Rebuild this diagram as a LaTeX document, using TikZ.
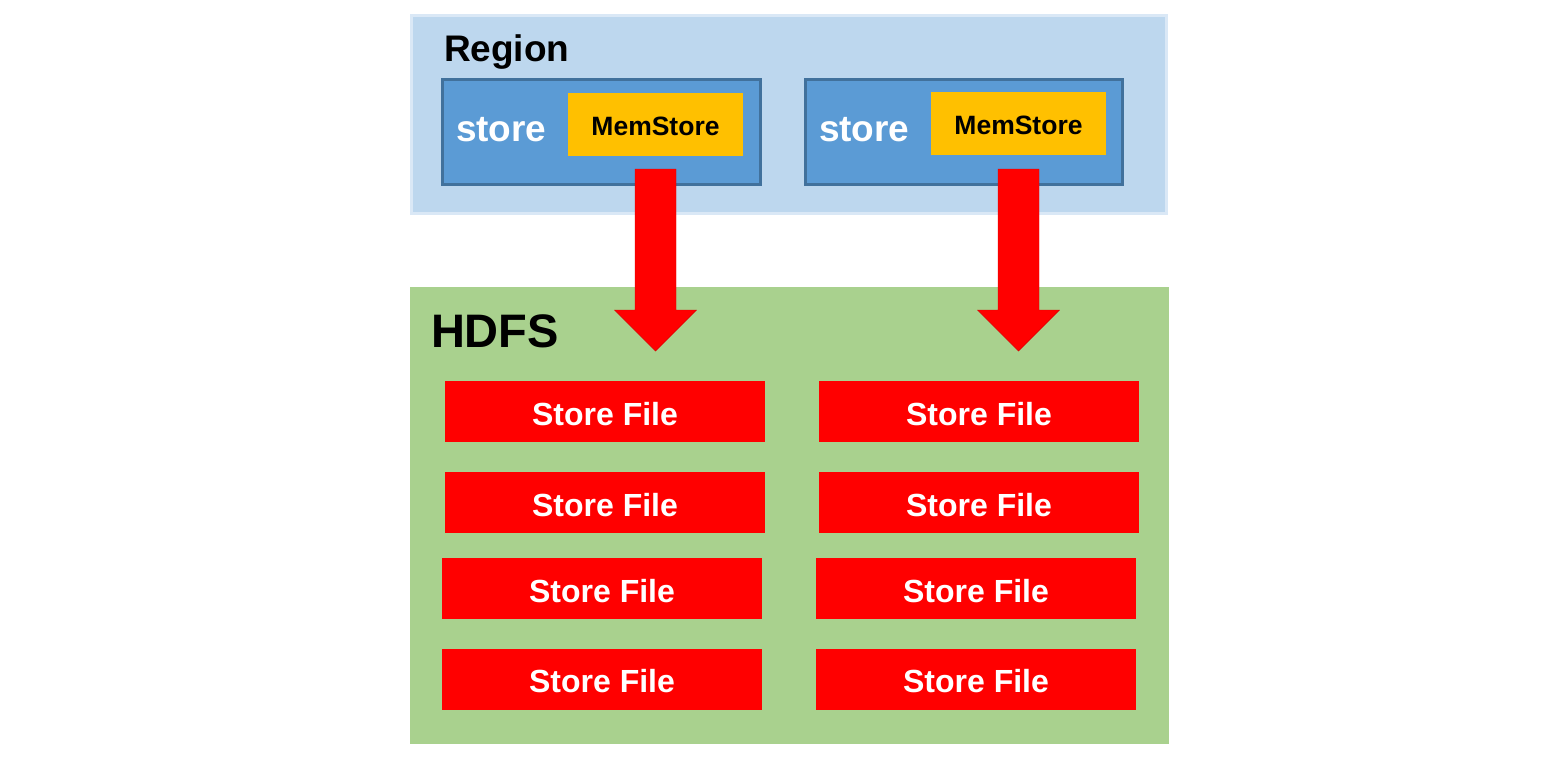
\documentclass[tikz,border=0pt]{standalone}
\usepackage{fontspec}
\setmainfont{Liberation Sans}
\definecolor{regionfill}{HTML}{BDD7EE}
\definecolor{regionedge}{HTML}{DAE8F6}
\definecolor{storefill}{HTML}{5B9BD5}
\definecolor{storeedge}{HTML}{41719C}
\definecolor{memfill}{HTML}{FFC000}
\definecolor{hdfsfill}{HTML}{A9D18E}
\definecolor{filered}{HTML}{FF0000}
\begin{document}
\begin{tikzpicture}[x=1pt,y=-1pt,
  container/.style={inner sep=0pt, outer sep=0pt},
  storebox/.style={fill=storefill, draw=storeedge, line width=3pt},
  membox/.style={fill=memfill, inner sep=0pt, text height=22pt, text depth=0pt, font=\fontsize{26.5}{30}\selectfont\bfseries, text=black},
  filebox/.style={fill=filered, inner sep=0pt, minimum width=320pt, minimum height=61pt, text height=27pt, text depth=0pt, font=\fontsize{32}{36}\selectfont\bfseries, text=white},
  bigarrow/.style={fill=filered, draw=filered!85!black, line width=0.4pt}
]
\useasboundingbox (0,0) rectangle (1555,758);
% Region container
\filldraw[fill=regionfill, draw=regionedge, line width=3pt] (411.5,15.5) rectangle (1166.5,213.5);
\node[container, anchor=west, font=\fontsize{37}{40}\selectfont\bfseries] (regionlbl) at (444,52) {Region};
% Stores
\filldraw[storebox] (442.5,79.5) rectangle (760,184);
\filldraw[storebox] (805.5,79.5) rectangle (1122,184);
\node[container, anchor=west, text=white, font=\fontsize{37}{40}\selectfont\bfseries] (st1) at (456,130) {store};
\node[container, anchor=west, text=white, font=\fontsize{37}{40}\selectfont\bfseries] (st2) at (819,130) {store};
\node[membox, minimum width=175pt, minimum height=63pt] (mem1) at (655.5,124.5) {MemStore};
\node[membox, minimum width=175pt, minimum height=63pt] (mem2) at (1018.5,123.5) {MemStore};
% HDFS container
\fill[hdfsfill] (410,287) rectangle (1169,744);
\node[container, anchor=west, font=\fontsize{47}{50}\selectfont\bfseries] (hdfslbl) at (431,331) {HDFS};
% Store files
\node[filebox] (f11) at (605,411.5) {Store File};
\node[filebox] (f12) at (605,502.5) {Store File};
\node[filebox] (f13) at (602,588.5) {Store File};
\node[filebox] (f14) at (602,679) {Store File};
\node[filebox] (f21) at (979,411.5) {Store File};
\node[filebox] (f22) at (979,502.5) {Store File};
\node[filebox] (f23) at (976,588.5) {Store File};
\node[filebox] (f24) at (976,679) {Store File};
% Block arrows
\coordinate (a1top) at (655.5,169);
\coordinate (a1tip) at (655.5,351);
\coordinate (a2top) at (1018.5,169);
\coordinate (a2tip) at (1018.5,351);
\filldraw[bigarrow] ([xshift=-20.5pt]a1top) -- ([xshift=20.5pt]a1top) -- ([xshift=20.5pt,yshift=41pt]a1tip) -- ([xshift=41pt,yshift=41pt]a1tip) -- (a1tip) -- ([xshift=-41pt,yshift=41pt]a1tip) -- ([xshift=-20.5pt,yshift=41pt]a1tip) -- cycle;
\filldraw[bigarrow] ([xshift=-20.5pt]a2top) -- ([xshift=20.5pt]a2top) -- ([xshift=20.5pt,yshift=41pt]a2tip) -- ([xshift=41pt,yshift=41pt]a2tip) -- (a2tip) -- ([xshift=-41pt,yshift=41pt]a2tip) -- ([xshift=-20.5pt,yshift=41pt]a2tip) -- cycle;
\end{tikzpicture}
\end{document}
